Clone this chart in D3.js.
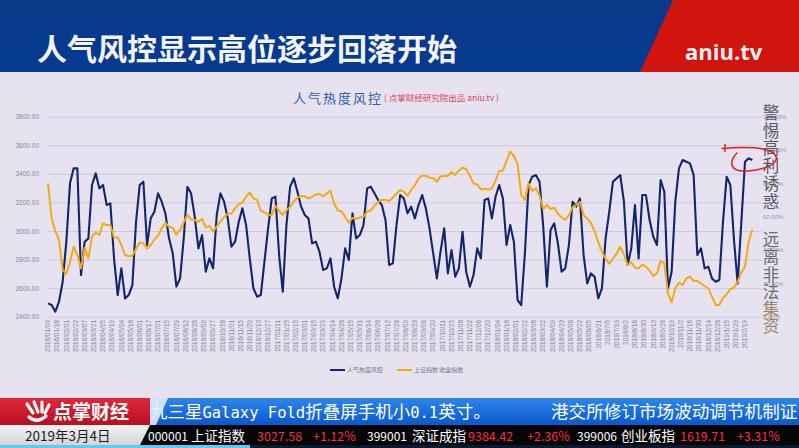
<!DOCTYPE html>
<html><head><meta charset="utf-8">
<script src="https://cdn.jsdelivr.net/npm/d3@7"></script>
<style>
html,body{margin:0;padding:0;background:#e6e2f0;overflow:hidden}
svg{display:block}
</style>
</head><body>
<svg id="c" width="799" height="448"></svg>
<script>
// ---------- DATA ----------
const dateLabels = ["2016/01/04","2016/01/18","2016/02/01","2016/02/22","2016/03/07","2016/03/21","2016/04/05","2016/04/19","2016/05/04","2016/05/18","2016/06/01","2016/06/17","2016/07/01","2016/07/15","2016/07/29","2016/08/12","2016/08/26","2016/09/09","2016/09/27","2016/10/18","2016/11/01","2016/11/15","2016/11/29","2016/12/13","2016/12/27","2017/01/11","2017/01/25","2017/02/15","2017/03/01","2017/03/15","2017/03/29","2017/04/14","2017/04/28","2017/05/15","2017/05/31","2017/06/14","2017/06/28","2017/07/12","2017/07/26","2017/08/09","2017/08/23","2017/09/06","2017/09/20","2017/10/11","2017/10/25","2017/11/08","2017/11/22","2017/12/06","2017/12/20","2018/01/04","2018/01/18","2018/02/01","2018/02/22","2018/03/08","2018/03/22","2018/04/09","2018/04/23","2018/05/08","2018/05/22","2018/06/05","2018/6/21","2018/7/5","2018/7/19","2018/8/2","2018/8/16","2018/8/30","2018/9/13","2018/9/28","2018/10/19","2018/11/2","2018/11/16","2018/11/30","2018/12/14","2018/12/28","2019/1/15","2019/1/29","2019/2/19"];
const labelEveryDays = 10;   // trading days between date labels
const sampleEveryDays = 4;   // trading days between data samples

// 人气热度风控 (%), right axis
const heatValues = [8,7,3,9,21,45,80,89,89,25,45,47,79,86,77,79,67,68,35,13,29,11,13,19,57,79,81,43,59,63,74,69,62,47,38,18,23,47,78,74,60,41,49,27,35,29,61,74,69,59,42,45,57,65,55,35,17,12,13,33,53,71,72,37,15,55,78,83,75,66,61,59,44,45,39,28,29,35,18,11,23,41,34,62,47,49,55,77,78,74,70,67,58,31,32,55,73,71,62,66,59,67,73,65,53,38,23,39,53,26,40,24,29,51,27,18,25,41,35,70,71,59,72,79,71,43,55,45,10,7,38,79,84,85,81,54,18,52,56,44,27,29,43,69,66,71,37,20,26,24,11,17,47,63,81,83,85,69,31,41,67,35,73,73,58,48,43,82,75,17,27,69,89,94,93,92,85,37,41,29,30,23,21,22,57,84,79,46,20,57,93,95,94];

// 上证指数 收盘指数, left axis
const indexValues = [3333,3088,3000,2937,2730,2700,2785,2890,2832,2738,2883,2808,2960,2990,2972,3053,3042,3042,2955,2955,2902,2832,2825,2827,2874,2920,2913,2878,2902,2939,2969,3018,3056,3030,3023,2974,3007,3060,3112,3081,3077,3065,3086,3025,3035,2997,3030,3065,3098,3121,3123,3158,3186,3200,3240,3270,3228,3217,3142,3130,3114,3112,3175,3140,3114,3144,3170,3207,3233,3245,3242,3228,3238,3256,3259,3242,3263,3282,3191,3144,3137,3100,3058,3091,3084,3095,3100,3137,3144,3177,3203,3217,3217,3210,3235,3261,3287,3275,3245,3289,3319,3368,3389,3385,3373,3371,3345,3382,3385,3385,3413,3392,3424,3443,3434,3387,3333,3326,3291,3296,3289,3298,3352,3420,3422,3490,3555,3525,3469,3252,3217,3333,3280,3298,3247,3154,3182,3154,3163,3121,3095,3077,3109,3165,3182,3203,3112,3086,3056,3000,2920,2855,2804,2771,2806,2841,2890,2836,2762,2780,2745,2738,2764,2752,2722,2685,2703,2790,2773,2563,2500,2598,2638,2622,2668,2680,2650,2650,2633,2615,2598,2540,2482,2482,2531,2556,2594,2603,2645,2708,2752,2925,3010];

const leftTicks = [2400,2600,2800,3000,3200,3400,3600,3800];
const rightTicks = [0,20,40,60,80,100,120];
const seriesNames = ["人气热度风控","上证指数 收盘指数"];

const tickerCodes = ["000001","399001","399006"];
const tickerNames = ["上证指数","深证成指","创业板指"];
const tickerValues = ["3027.58","9384.42","1619.71"];
const tickerChanges = ["+1.12%","+2.36%","+3.31%"];

// ---------- DRAW ----------
const CJK = "'Noto Sans CJK SC','Noto Sans',sans-serif";
const svg = d3.select("#c");
const defs = svg.append("defs");

svg.append("rect").attr("x",0).attr("y",0).attr("width",799).attr("height",448).attr("fill","#e6e2f0");

// banner
const bg = defs.append("linearGradient").attr("id","ban").attr("x1",0).attr("y1",0).attr("x2",0).attr("y2",1);
bg.append("stop").attr("offset","0").attr("stop-color","#0a3a8a");
bg.append("stop").attr("offset","1").attr("stop-color","#053a90");
svg.append("rect").attr("x",0).attr("y",0).attr("width",799).attr("height",72).attr("fill","url(#ban)");
svg.append("polygon").attr("points","673,0 799,0 799,72 640,72").attr("fill","#d0140e");
svg.append("text").attr("x",37).attr("y",60).attr("font-family",CJK).attr("font-weight","bold")
  .attr("font-size",30).attr("fill","#f4f4fa").text("人气风控显示高位逐步回落开始");
svg.append("text").attr("x",685).attr("y",60).attr("font-family","'Open Sans','Noto Sans',sans-serif").attr("font-weight","bold")
  .attr("font-size",22).attr("fill","#f6f0f0").text("aniu.tv");

// chart title
svg.append("text").attr("x",293).attr("y",103).attr("font-family",CJK).attr("font-size",13)
  .attr("letter-spacing",2).attr("fill","#2f5ea8").text("人气热度风控");
svg.append("text").attr("x",384).attr("y",101).attr("font-family",CJK).attr("font-size",8.5)
  .attr("fill","#e0405e").text("( 点掌财经研究院出品 aniu.tv )");

// scales
const x = d3.scaleLinear().domain([0,(dateLabels.length-1)*labelEveryDays]).range([48,745]);
const yL = d3.scaleLinear().domain([2400,3800]).range([316.7,116.7]);
const yR = d3.scaleLinear().domain([0,120]).range([316.7,116.7]);

// gridlines + left axis
const gAxL = svg.append("g").attr("transform","translate(40,0)")
  .call(d3.axisLeft(yL).tickValues(leftTicks).tickFormat(d3.format(".2f")).tickSize(-715).tickPadding(2));
gAxL.select(".domain").remove();
gAxL.selectAll(".tick line").attr("stroke","#cdc9da").attr("transform","translate(7,0)");
gAxL.selectAll(".tick text").attr("font-family","'Liberation Sans',Arial,sans-serif").attr("font-size",6.5).attr("fill","#8a8899").attr("x",-1);

// right axis
const gAxR = svg.append("g").attr("transform","translate(762,0)")
  .call(d3.axisRight(yR).tickValues(rightTicks).tickFormat(d=>d3.format(".2f")(d)+"%").tickSize(0).tickPadding(1));
gAxR.select(".domain").remove();
gAxR.selectAll(".tick text").attr("font-family","'Liberation Sans',Arial,sans-serif").attr("font-size",6).attr("fill","#9a98a6");

// x labels
const gx = svg.append("g");
gx.selectAll("text").data(dateLabels).join("text")
  .attr("transform",(d,i)=>`translate(${x(i*labelEveryDays)},320) rotate(-90)`)
  .attr("text-anchor","end").attr("dy","0.35em")
  .attr("font-family","'Liberation Sans',Arial,sans-serif").attr("font-size",6.4).attr("fill","#8a8899")
  .text(d=>d);

// lines
const lineHeat = d3.line().x((d,i)=>x(i*sampleEveryDays)).y(d=>yR(d));
const lineIdx = d3.line().x((d,i)=>x(i*sampleEveryDays)).y(d=>yL(d));
svg.append("path").datum(heatValues).attr("d",lineHeat).attr("fill","none")
  .attr("stroke","#15256b").attr("stroke-width",2.1).attr("stroke-linejoin","round");
svg.append("path").datum(indexValues).attr("d",lineIdx).attr("fill","none")
  .attr("stroke","#f6a912").attr("stroke-width",2).attr("stroke-linejoin","round");

// legend
const leg = svg.append("g").attr("font-family",CJK).attr("font-size",6).attr("fill","#7a7888");
leg.append("line").attr("x1",330).attr("x2",345).attr("y1",370).attr("y2",370).attr("stroke","#15256b").attr("stroke-width",2);
leg.append("text").attr("x",347).attr("y",372).text(seriesNames[0]);
leg.append("line").attr("x1",397).attr("x2",412).attr("y1",370).attr("y2",370).attr("stroke","#f6a912").attr("stroke-width",2);
leg.append("text").attr("x",414).attr("y",372).text(seriesNames[1]);

// overlay vertical slogans (single vertical text each)
const slogan1 = "警惕高利诱惑";
const slogan2 = "远离非法集资";
svg.append("text").attr("x",771).attr("y",104.5).style("writing-mode","vertical-rl")
  .attr("font-family",CJK).attr("font-size",16.5).attr("letter-spacing",1.2).attr("fill","#5a5860").text(slogan1);
const s2 = svg.append("text").attr("x",771).attr("y",231.5).style("writing-mode","vertical-rl")
  .attr("font-family",CJK).attr("font-size",16.5).attr("letter-spacing",0.8);
s2.append("tspan").attr("fill","#6e6a70").text(slogan2.slice(0,4));
s2.append("tspan").attr("fill","#9c8666").text(slogan2.slice(4));

// red hand annotation
svg.append("path").attr("d","M725,144 L725,152").attr("stroke","#e0201a").attr("stroke-width",1.5).attr("fill","none");
svg.append("path")
  .attr("d","M722,148.5 C735,147.5 752,147 763,149 C772,151 778,155 776,160 C774,166 760,170 748,171 C740,171.5 733,170 732,165 C731,160 734,156 737,153")
  .attr("stroke","#e0201a").attr("stroke-width",1.5).attr("fill","none").attr("stroke-linecap","round");

// ---------- TICKER ----------
const rg = defs.append("linearGradient").attr("id","red").attr("x1",0).attr("y1",0).attr("x2",0).attr("y2",1);
rg.append("stop").attr("offset","0").attr("stop-color","#e0283a");
rg.append("stop").attr("offset","1").attr("stop-color","#b80f22");
const blg = defs.append("linearGradient").attr("id","blu").attr("x1",0).attr("y1",0).attr("x2",0).attr("y2",1);
blg.append("stop").attr("offset","0").attr("stop-color","#2d86ec");
blg.append("stop").attr("offset","1").attr("stop-color","#0a58cc");
const gg = defs.append("linearGradient").attr("id","gry").attr("x1",0).attr("y1",0).attr("x2",0).attr("y2",1);
gg.append("stop").attr("offset","0").attr("stop-color","#f4f4f6");
gg.append("stop").attr("offset","1").attr("stop-color","#d4d4d8");

svg.append("rect").attr("x",150).attr("y",398).attr("width",649).attr("height",27).attr("fill","url(#blu)");
svg.append("rect").attr("x",0).attr("y",398).attr("width",150).attr("height",27).attr("fill","url(#red)");

// top ticker text
const t1 = svg.append("text").attr("x",150).attr("y",418).attr("fill","#ffffff");
[["九",CJK,17.5],["三星",CJK,17.5],["Galaxy Fold","'DejaVu Sans Mono',monospace",15.5],["折叠屏手机小",CJK,17.5],["0.1","'DejaVu Sans Mono',monospace",15.5],["英寸。",CJK,17.5]]
  .forEach(p=>t1.append("tspan").attr("font-family",p[1]).attr("font-size",p[2]).text(p[0]));
svg.append("polygon").attr("points","150,398 168,398 156,425 150,425").attr("fill","#e4ecf8").attr("opacity",0.9);
svg.append("text").attr("x",551).attr("y",418).attr("font-family",CJK).attr("font-size",17.6).attr("fill","#ffffff")
  .text("港交所修订市场波动调节机制证");

// logo
const logo = svg.append("g").attr("stroke","#ffffff").attr("stroke-width",3.2).attr("stroke-linecap","round").attr("fill","none");
logo.append("path").attr("d","M27,404 L33,413");
logo.append("path").attr("d","M34,402 L38,412");
logo.append("path").attr("d","M42,402 L42,412");
logo.append("path").attr("d","M49,405 L45,413");
logo.append("path").attr("d","M29,417 Q37,424 46,416");
svg.append("text").attr("x",53).attr("y",419).attr("font-family",CJK).attr("font-weight","bold")
  .attr("font-size",19).attr("fill","#ffffff").text("点掌财经");

// bottom row
svg.append("rect").attr("x",0).attr("y",425).attr("width",150).attr("height",20).attr("fill","url(#gry)");
svg.append("polygon").attr("points","150,425 799,425 799,445 140,445").attr("fill","#060608");
svg.append("text").attr("x",25).attr("y",441).attr("font-family",CJK).attr("font-size",13.5).attr("fill","#1a1a1a").text("2019年3月4日");

const codeX = [148,367,577], nameX = [191,412,621], valX = [257,468,680], chgX = [313,527,737];
const bt = svg.append("g").attr("font-family",CJK);
tickerCodes.forEach((c,i)=>{
  bt.append("text").attr("x",codeX[i]).attr("y",441).attr("font-size",12).attr("fill","#ffffff").text(c);
  bt.append("text").attr("x",nameX[i]).attr("y",441).attr("font-size",13.5).attr("fill","#ffffff").text(tickerNames[i]);
  bt.append("text").attr("x",valX[i]).attr("y",441).attr("font-size",12.5).attr("fill","#ff2a3a").text(tickerValues[i]);
  bt.append("text").attr("x",chgX[i]).attr("y",441).attr("font-size",12.5).attr("fill","#ff2a3a").text(tickerChanges[i]);
});

// bottom strip
svg.append("rect").attr("x",0).attr("y",445).attr("width",799).attr("height",3).attr("fill","#0a1830");
svg.append("rect").attr("x",0).attr("y",445).attr("width",250).attr("height",3).attr("fill","#66c6ee");
</script>
</body></html>
